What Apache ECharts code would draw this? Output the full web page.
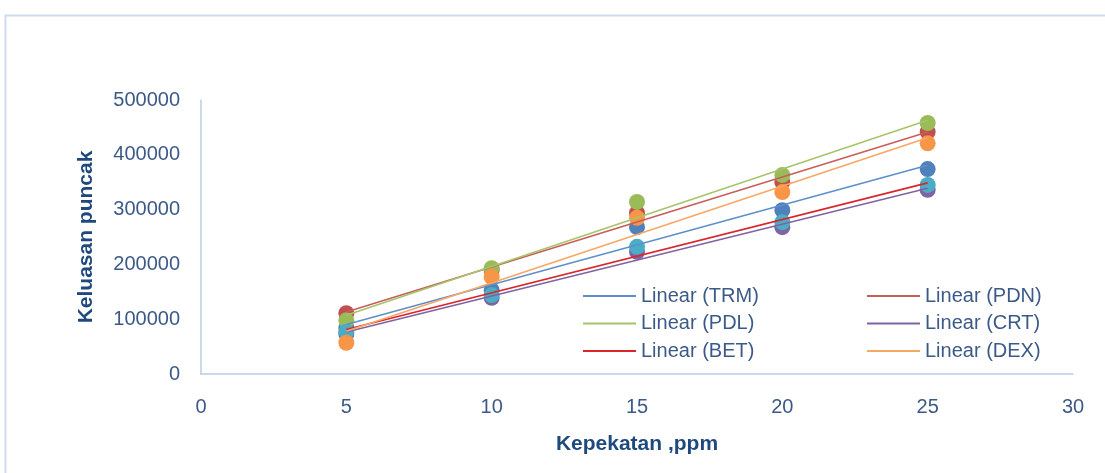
<!DOCTYPE html>
<html>
<head>
<meta charset="utf-8">
<script src="https://cdn.jsdelivr.net/npm/echarts@6/dist/echarts.min.js"></script>
<style>
  html, body { margin: 0; padding: 0; background: #fff; }
  #chart { width: 1105px; height: 473px; }
</style>
</head>
<body>
<div id="chart"></div>
<script>
// Concentration levels (ppm)
const concentrations = [5, 10, 15, 20, 25];

// Peak areas per compound
const trm = [84000, 153000, 268000, 299000, 374000];
const pdn = [111000, 190000, 294000, 350000, 442000];
const pdl = [98000, 193000, 314000, 363000, 458000];
const crt = [73000, 139000, 223000, 268000, 336000];
const bet = [77000, 144000, 232000, 277000, 345000];
const dex = [57000, 177000, 285000, 332000, 421000];

const xTicks = [0, 5, 10, 15, 20, 25, 30];
const yTicks = [0, 100000, 200000, 300000, 400000, 500000];

const compounds = [
  { name: 'TRM', values: trm, marker: '#4F81BD', trend: '#5F8FCB' },
  { name: 'PDN', values: pdn, marker: '#C0504D', trend: '#C85E5B' },
  { name: 'PDL', values: pdl, marker: '#9BBB59', trend: '#A6C46A' },
  { name: 'CRT', values: crt, marker: '#8064A2', trend: '#8064A2' },
  { name: 'BET', values: bet, marker: '#4BACC6', trend: '#D9262A' },
  { name: 'DEX', values: dex, marker: '#F79646', trend: '#F9A765' }
];

// Least-squares fit, evaluated over the measured range
function linearFit(xs, ys) {
  const n = xs.length;
  const mx = xs.reduce((a, b) => a + b, 0) / n;
  const my = ys.reduce((a, b) => a + b, 0) / n;
  let sxy = 0, sxx = 0;
  for (let i = 0; i < n; i++) {
    sxy += (xs[i] - mx) * (ys[i] - my);
    sxx += (xs[i] - mx) * (xs[i] - mx);
  }
  const slope = sxy / sxx;
  const intercept = my - slope * mx;
  const x0 = Math.min(...xs), x1 = Math.max(...xs);
  return [[x0, intercept + slope * x0], [x1, intercept + slope * x1]];
}

const tickColor = '#3C5A87';
const titleColor = '#1F497D';
const axisColor = '#B9CDE5';

const series = [];
compounds.forEach(c => {
  series.push({
    name: c.name,
    type: 'scatter',
    symbol: 'circle',
    symbolSize: 16,
    itemStyle: { color: c.marker, opacity: 1 },
    z: 2,
    silent: true,
    data: concentrations.map((x, i) => [x, c.values[i]])
  });
});
compounds.forEach(c => {
  series.push({
    name: 'Linear (' + c.name + ')',
    type: 'line',
    showSymbol: false,
    symbol: 'none',
    lineStyle: { color: c.trend, width: 1.6 },
    itemStyle: { color: c.trend },
    z: 3,
    silent: true,
    data: linearFit(concentrations, c.values)
  });
});

const legendBase = {
  orient: 'vertical',
  icon: 'rect',
  itemWidth: 53,
  itemHeight: 2,
  itemGap: 7.5,
  padding: 0,
  selectedMode: false,
  textStyle: { color: tickColor, fontSize: 20, lineHeight: 20, fontFamily: 'Liberation Sans', padding: [0, 0, 0, 0] },
  top: 286
};

const chart = echarts.init(document.getElementById('chart'), null, { renderer: 'canvas' });
chart.setOption({
  animation: false,
  backgroundColor: '#ffffff',
  graphic: [{
    type: 'rect',
    shape: { x: 5.5, y: 15.5, width: 1200, height: 600 },
    style: { fill: 'none', stroke: '#D0DCEE', lineWidth: 2 },
    silent: true,
    z: -1
  }],
  grid: { left: 201, right: 32, top: 100, bottom: 99 },
  legend: [
    Object.assign({}, legendBase, { left: 583, data: ['Linear (TRM)', 'Linear (PDL)', 'Linear (BET)'] }),
    Object.assign({}, legendBase, { left: 867, data: ['Linear (PDN)', 'Linear (CRT)', 'Linear (DEX)'] })
  ],
  xAxis: {
    type: 'value',
    min: xTicks[0],
    max: xTicks[xTicks.length - 1],
    interval: xTicks[1] - xTicks[0],
    name: 'Kepekatan ,ppm',
    nameLocation: 'middle',
    nameGap: 60,
    nameTextStyle: { color: titleColor, fontSize: 21, fontWeight: 'bold', fontFamily: 'Liberation Sans' },
    axisLine: { show: true, lineStyle: { color: axisColor, width: 1.5 } },
    axisTick: { show: false },
    splitLine: { show: false },
    axisLabel: { color: tickColor, fontSize: 20, margin: 23, fontFamily: 'Liberation Sans' }
  },
  yAxis: {
    type: 'value',
    min: yTicks[0],
    max: yTicks[yTicks.length - 1],
    interval: yTicks[1] - yTicks[0],
    name: 'Keluasan puncak',
    nameLocation: 'middle',
    nameGap: 104,
    nameRotate: 90,
    nameTextStyle: { color: titleColor, fontSize: 21, fontWeight: 'bold', fontFamily: 'Liberation Sans' },
    axisLine: { show: true, lineStyle: { color: axisColor, width: 1.5 } },
    axisTick: { show: false },
    splitLine: { show: false },
    axisLabel: { color: tickColor, fontSize: 20, margin: 21, fontFamily: 'Liberation Sans', formatter: v => String(v) }
  },
  series: series
});
</script>
</body>
</html>
